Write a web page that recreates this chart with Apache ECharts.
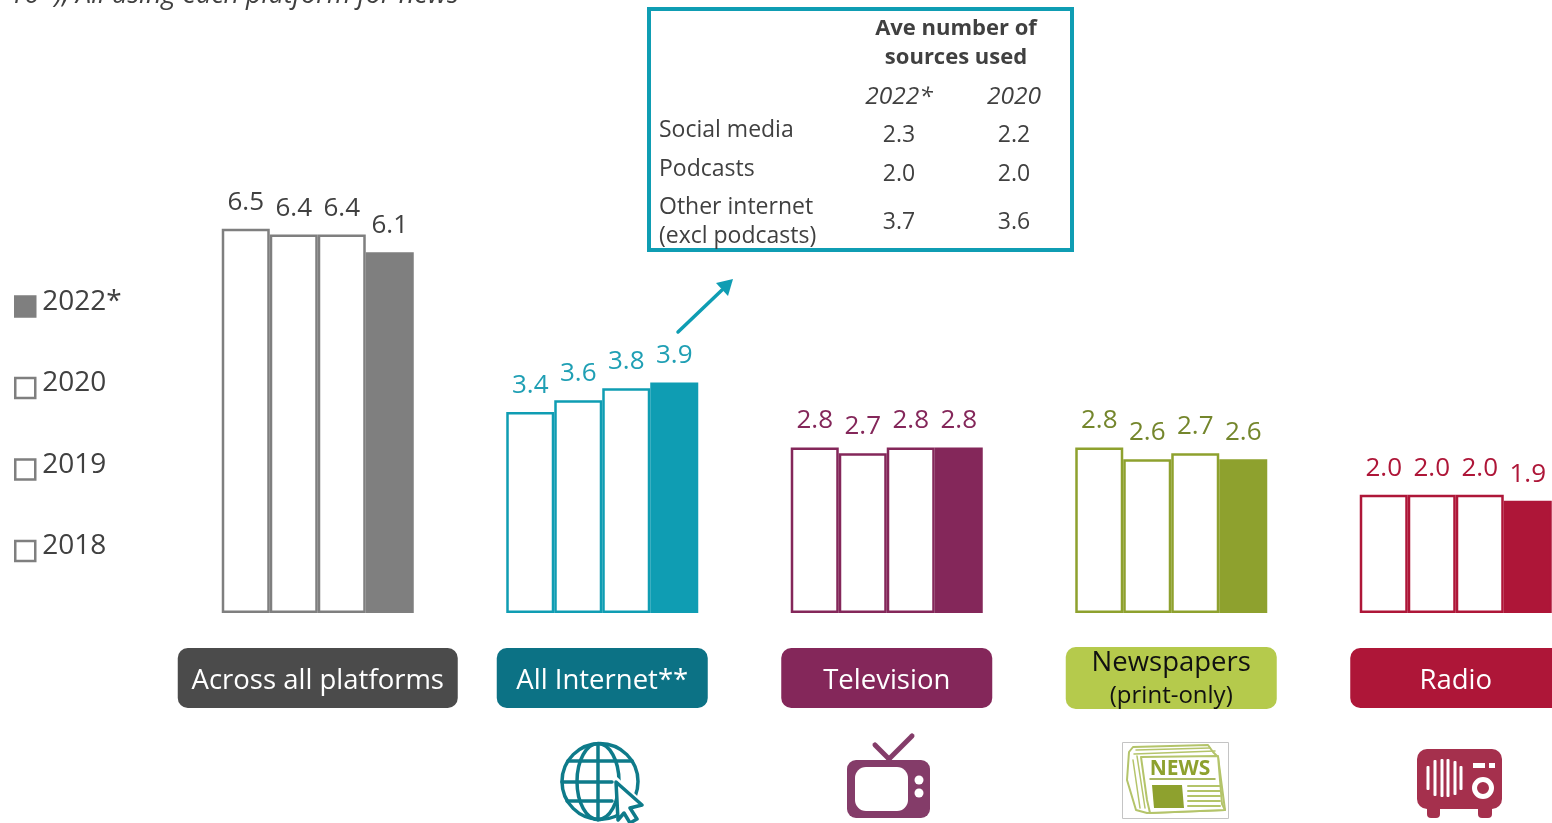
<!DOCTYPE html>
<html>
<head>
<meta charset="utf-8">
<title>Average number of sources by platform</title>
<script src="https://cdn.jsdelivr.net/npm/echarts@6/dist/echarts.min.js"></script>
<style>
  html, body { margin: 0; padding: 0; background: #fff; overflow: hidden; }
  #main { width: 1552px; height: 823px; }
</style>
</head>
<body>
<div id="main"></div>
<script>
// chart data
const platforms = ['Across all platforms', 'All Internet**', 'Television', 'Newspapers\n(print-only)', 'Radio'];
const years = ['2018', '2019', '2020', '2022*'];
const values2018 = [6.5, 3.4, 2.8, 2.8, 2.0];
const values2019 = [6.4, 3.6, 2.7, 2.6, 2.0];
const values2020 = [6.4, 3.8, 2.8, 2.7, 2.0];
const values2022 = [6.1, 3.9, 2.8, 2.6, 1.9];

// inset table
const tableYears = ['2022*', '2020'];
const tableRows = ['Social media', 'Podcasts', 'Other internet\n(excl podcasts)'];
const table2022 = ['2.3', '2.0', '3.7'];
const table2020 = ['2.2', '2.0', '3.6'];

// colours per platform
const barColors = ['#7f7f7f', '#0f9db3', '#84275a', '#8ea12e', '#ae1638'];
const labelColors = ['#404040', '#1f9fb4', '#84275a', '#74862c', '#ae1638'];
const pillColors = ['#4b4b4b', '#0c7285', '#84275a', '#b5ca4c', '#ae1638'];
const pillWidths = [280, 211, 211, 211, 211];

const FONT = '"Open Sans", sans-serif';
const TEAL = '#0f9db3';

function makeSeries(name, values, filled) {
  return {
    name: name,
    type: 'bar',
    barWidth: 48,
    barGap: 0,
    itemStyle: {
      color: filled ? '#7f7f7f' : '#fff',
      borderColor: '#7f7f7f',
      borderWidth: 2.5
    },
    label: {
      show: true,
      position: 'top',
      distance: 13.5,
      fontFamily: FONT,
      fontSize: 26,
      formatter: p => p.value.toFixed(1)
    },
    data: values.map((v, i) => ({
      value: v,
      itemStyle: { color: filled ? barColors[i] : '#fff', borderColor: barColors[i] },
      label: { color: labelColors[i] }
    }))
  };
}

// small helpers for the inset and the icons
function txt(x, y, text, size, color, extra) {
  return {
    type: 'text',
    x: x,
    y: y,
    silent: true,
    style: Object.assign({
      text: text,
      fontFamily: FONT,
      fontSize: size,
      fill: color,
      align: 'center',
      verticalAlign: 'middle'
    }, extra || {})
  };
}
function box(x, y, w, h, r, fill, stroke, lw) {
  return {
    type: 'rect',
    silent: true,
    shape: { x: x, y: y, width: w, height: h, r: r },
    style: { fill: fill, stroke: stroke || null, lineWidth: lw || 0 }
  };
}
function seg(x1, y1, x2, y2, color, lw) {
  return {
    type: 'line',
    silent: true,
    shape: { x1: x1, y1: y1, x2: x2, y2: y2 },
    style: { stroke: color, lineWidth: lw, lineCap: 'round' }
  };
}
function poly(points, fill, stroke, lw) {
  return {
    type: 'polygon',
    silent: true,
    shape: { points: points },
    style: { fill: fill, stroke: stroke || null, lineWidth: lw || 0, lineJoin: 'round' }
  };
}
function ring(cx, cy, r, fill, stroke, lw) {
  return {
    type: 'circle',
    silent: true,
    shape: { cx: cx, cy: cy, r: r },
    style: { fill: fill, stroke: stroke || null, lineWidth: lw || 0 }
  };
}

function insetTable() {
  const els = [box(649, 9, 423, 241, 0, '#fff', TEAL, 4)];
  const dark = '#404040';
  const colX = [899, 1014];
  const valueY = [135, 174, 222];
  const labelY = [130, 169, 222];
  els.push(txt(956, 29, 'Ave number of', 22, dark, { fontWeight: 700 }));
  els.push(txt(956, 58, 'sources used', 22, dark, { fontWeight: 700 }));
  tableYears.forEach((y, i) => els.push(txt(colX[i], 97, y, 24.5, dark, { fontStyle: 'italic' })));
  tableRows.forEach((r, i) => {
    els.push(txt(659, labelY[i], r, 23, dark, { align: 'left', lineHeight: 29 }));
    els.push(txt(colX[0], valueY[i], table2022[i], 23, dark));
    els.push(txt(colX[1], valueY[i], table2020[i], 23, dark));
  });
  // arrow from the internet bars up to the table
  els.push(seg(678, 332, 722, 290, TEAL, 3.5));
  els.push(poly([[733, 279], [716, 283], [728, 296]], TEAL));
  return els;
}

function globeIcon() {
  const c = '#0e7b8a';
  return [
    ring(600, 781.5, 38, '#fff', c, 3.5),
    { type: 'ellipse', silent: true, shape: { cx: 598, cy: 781.5, rx: 21, ry: 38 }, style: { fill: null, stroke: c, lineWidth: 3.5 } },
    seg(598, 744, 598, 820, c, 3.5),
    seg(568, 761, 632, 761, c, 3.5),
    seg(562, 782, 612, 782, c, 3.5),
    seg(567, 801, 612, 801, c, 3.5),
    poly([[616, 776], [650, 808], [650, 823], [616, 823]], '#fff'),
    poly([[616, 782], [642, 805], [630, 808], [637, 819], [630, 823], [624, 813], [618, 820]], '#fff', c, 3.5)
  ];
}

function tvIcon() {
  const c = '#843c69';
  return [
    seg(875, 745, 889, 759, c, 5),
    seg(889, 759, 912, 736, c, 5),
    box(847, 760, 83, 58, 9, c),
    box(855, 767, 53, 44, 11, '#fff'),
    ring(919, 780, 4.5, '#fff'),
    ring(919, 793, 4.5, '#fff')
  ];
}

function newsIcon() {
  const c = '#8ea12e';
  const light = '#b4c46a';
  const els = [box(1122.5, 742.5, 106, 76, 0, '#fff', '#c4c4c4', 1)];
  // stacked pages behind the front sheet
  els.push(poly([[1129, 752], [1133, 747], [1208, 745], [1213, 752], [1218, 757], [1225, 810], [1147, 813], [1136, 810], [1127, 780]], '#fff', light, 2));
  els.push(seg(1136, 750, 1210, 748, light, 1.5));
  els.push(seg(1134, 754, 1215, 751, light, 1.5));
  els.push(seg(1133, 760, 1140, 808, light, 1.5));
  els.push(seg(1137, 756, 1145, 808, light, 1.5));
  els.push(poly([[1141, 757], [1218, 756], [1222, 804], [1225, 810], [1150, 813], [1147, 800]], '#fff', light, 2));
  els.push(txt(1180, 769.5, 'NEWS', 21, c, { fontWeight: 700 }));
  els.push(seg(1150, 779, 1215, 779, c, 1.5));
  els.push(poly([[1152, 785], [1182, 785], [1184, 808], [1154, 808]], c));
  [786, 791, 796, 801, 806].forEach(y => els.push(seg(1188, y, 1220, y, light, 2)));
  return els;
}

function radioIcon() {
  const c = '#a5304d';
  const els = [
    box(1427, 805, 13, 13, 4, c),
    box(1478, 805, 14, 13, 4, c),
    box(1417, 749, 85, 60, 10, c)
  ];
  // grille slots
  const slotX = [1428, 1435, 1442, 1448, 1455, 1461];
  const slotH = [12, 18, 19, 19, 17, 12];
  slotX.forEach((x, i) => els.push(box(x - 1.5, 778 - slotH[i], 3, slotH[i] * 2, 1, '#fff')));
  els.push(box(1473, 763, 12, 5, 0, '#fff'));
  els.push(box(1489, 763, 6, 5, 0, '#fff'));
  els.push(ring(1483, 788, 8.5, null, '#fff', 5));
  return els;
}

const option = {
  animation: false,
  backgroundColor: '#fff',
  grid: { left: 175.5, width: 1422.5, top: 140, height: 473, containLabel: false, outerBoundsMode: 'none' },
  legend: {
    orient: 'vertical',
    left: 14,
    top: 288,
    padding: 0,
    itemWidth: 20,
    itemHeight: 20,
    itemGap: 44.5,
    selectedMode: false,
    icon: 'rect',
    itemStyle: { borderWidth: 2.5 },
    data: ['2022*', '2020', '2019', '2018'],
    formatter: '{t|{name}}',
    textStyle: {
      rich: {
        t: { fontFamily: FONT, fontSize: 28, color: '#404040', lineHeight: 28, padding: [0, 0, 9, 2] }
      }
    }
  },
  xAxis: {
    type: 'category',
    data: platforms.map((p, i) => ({
      value: p,
      textStyle: {
        color: i === 3 ? '#111' : '#fff',
        fontFamily: FONT,
        fontSize: 27.5,
        lineHeight: i === 3 ? 33 : 66,
        width: pillWidths[i],
        height: i === 3 ? 62 : 60,
        align: 'center',
        verticalAlign: 'middle',
        backgroundColor: pillColors[i],
        borderRadius: 10,
        rich: {
          small: { fontFamily: FONT, fontSize: 24, color: '#111', lineHeight: 33 }
        }
      }
    })),
    axisLine: { show: false },
    axisTick: { show: false },
    axisLabel: {
      interval: 0,
      margin: 65,
      hideOverlap: false,
      formatter: v => v.includes('\n') ? v.split('\n')[0] + '\n{small|' + v.split('\n')[1] + '}' : v
    }
  },
  yAxis: { type: 'value', min: 0, max: 8, show: false },
  series: [
    makeSeries(years[0], values2018, false),
    makeSeries(years[1], values2019, false),
    makeSeries(years[2], values2020, false),
    makeSeries(years[3], values2022, true)
  ],
  graphic: [].concat(
    [txt(-11, -5, 'e 16+); All using each platform for news', 27, '#404040', { align: 'left', fontStyle: 'italic' })],
    insetTable(),
    globeIcon(),
    tvIcon(),
    newsIcon(),
    radioIcon()
  )
};

const chart = echarts.init(document.getElementById('main'));
chart.setOption(option);
</script>
</body>
</html>
